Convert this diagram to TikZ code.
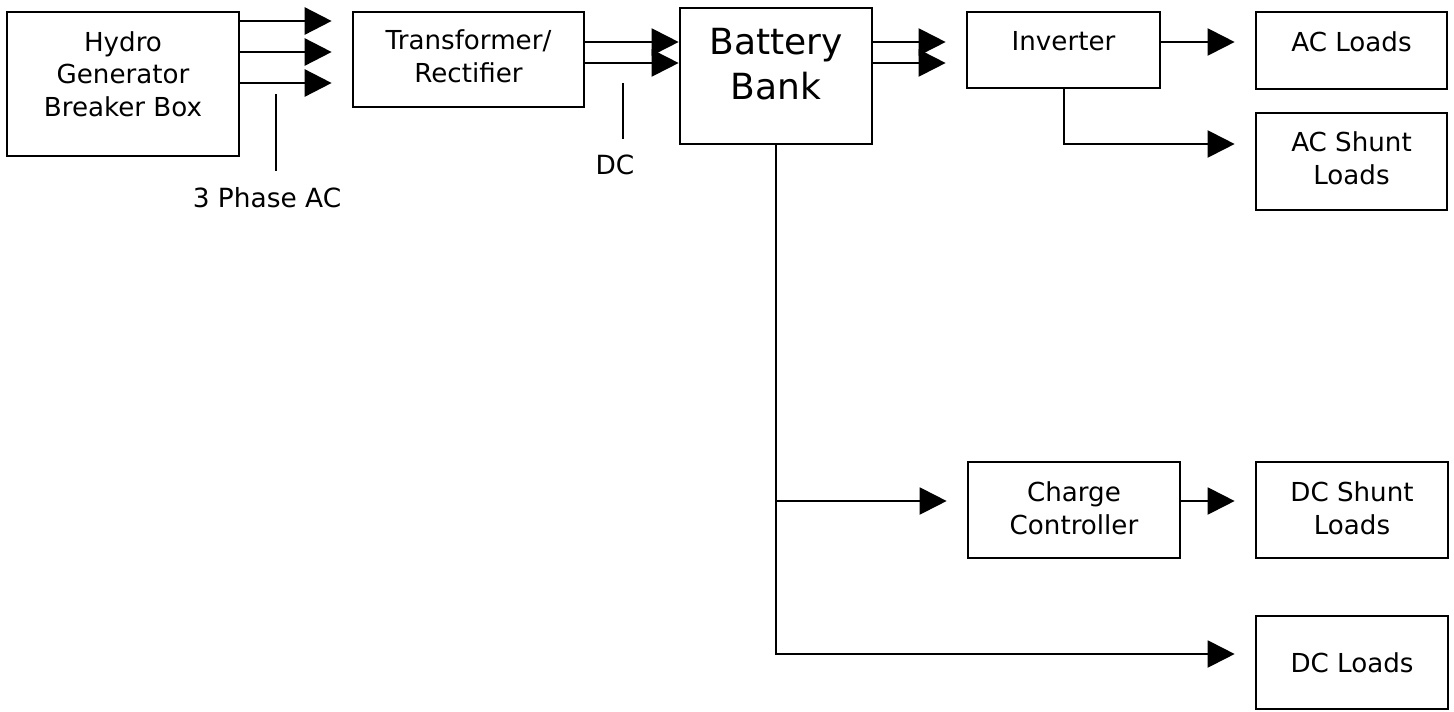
\documentclass[tikz,border=0pt]{standalone}
\usepackage{fontspec}
\setmainfont{DejaVu Sans}
\usetikzlibrary{arrows.meta}

\tikzset{
  box/.style={draw, line width=2pt, align=center, inner sep=0pt,
    font=\fontsize{19.6}{24.4}\selectfont},
  link/.style={line width=1.5pt, -{Triangle[length=20.25pt,width=20.25pt]}},
  gap/.style={shorten >=15pt},
  callout/.style={line width=1.2pt},
  label text/.style={inner sep=0pt, font=\fontsize{19.8}{24.4}\selectfont}
}

\begin{document}
\begin{tikzpicture}[x=0.75pt,y=0.75pt,yscale=-1,xscale=1]
\useasboundingbox (0,0) rectangle (1454,711);

%Shape: Rectangle [hydro]
\node [box, minimum width=174pt, minimum height=108pt, text depth=15pt] (hydro) at (123,84) {Hydro\\Generator\\Breaker Box};
%Shape: Rectangle [trans]
\node [box, minimum width=173.25pt, minimum height=71.25pt, text depth=5pt] (trans) at (468.5,59.5) {Transformer/\\Rectifier};
%Shape: Rectangle [battery]
\node [box, minimum width=144pt, minimum height=102pt, text depth=18pt,
  font=\fontsize{27}{33.75}\selectfont] (bat) at (776,76) {Battery\\Bank};
%Shape: Rectangle [inverter]
\node [box, minimum width=144.75pt, minimum height=57pt, text depth=13.5pt] (inv) at (1063.5,50) {Inverter};
%Shape: Rectangle [ac loads]
\node [box, minimum width=143.25pt, minimum height=57.75pt, text depth=12.75pt] (acload) at (1351.5,50.5) {AC Loads};
%Shape: Rectangle [ac shunt]
\node [box, minimum width=143.25pt, minimum height=72.75pt, text depth=5pt] (acshunt) at (1351.5,161.5) {AC Shunt\\Loads};
%Shape: Rectangle [charge controller]
\node [box, minimum width=159pt, minimum height=72pt, text depth=3pt] (charge) at (1074,510) {Charge\\Controller};
%Shape: Rectangle [dc shunt]
\node [box, minimum width=144pt, minimum height=72pt, text depth=3pt] (dcshunt) at (1352,510) {DC Shunt\\Loads};
%Shape: Rectangle [dc loads]
\node [box, minimum width=144pt, minimum height=69.75pt] (dcload) at (1352,662.5) {DC Loads};

% Text Node
\node [label text] (phase) at (267,198) {3 Phase AC};
% Text Node
\node [label text] (dc) at (615,165) {DC};
\coordinate (phtop) at (276,94);
\coordinate (phend) at (276,171);
\coordinate (dctop) at (623,83);
\coordinate (dcend) at (623,139);

%Straight Lines [3 phase]
\foreach \y in {21,52,83}
  \draw [link, gap, line width=2pt] (hydro.east |- 0,\y) -- (trans.west |- 0,\y);
\draw [callout] (phtop) -- (phend);

%Straight Lines [dc]
\foreach \y in {42,63}
  \draw [link] (trans.east |- 0,\y) -- (bat.west |- 0,\y);
\draw [callout] (dctop) -- (dcend);

%Straight Lines [battery to inverter]
\foreach \y in {42,63}
  \draw [link, gap] (bat.east |- 0,\y) -- (inv.west |- 0,\y);

%Straight Lines [inverter outputs]
\draw [link, gap] (inv.east |- 0,42) -- (acload.west |- 0,42);
\draw [link, gap] (inv.south) |- (acshunt.west |- 0,144);

%Straight Lines [battery dc side]
\draw [link, gap] (bat.south) |- (dcload.west |- 0,654);
\draw [link, gap] (bat.south |- 0,501) -- (charge.west |- 0,501);
\draw [link, gap] (charge.east |- 0,501) -- (dcshunt.west |- 0,501);

\end{tikzpicture}
\end{document}
